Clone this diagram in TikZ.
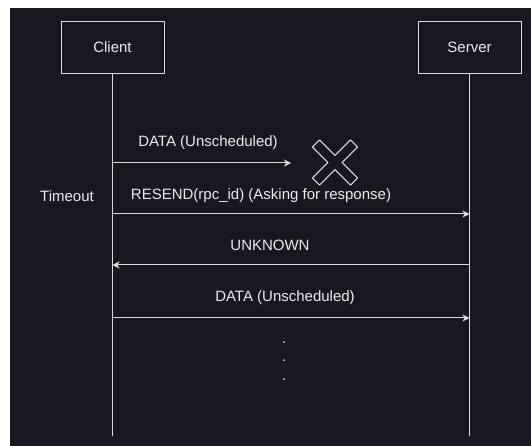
\documentclass[tikz,border=0pt]{standalone}
\usepackage{fontspec}
\setmainfont{Liberation Sans}
\usetikzlibrary{arrows.meta}
\definecolor{bgdark}{RGB}{25,23,32}
\definecolor{fgline}{RGB}{220,220,220}
\definecolor{fgtext}{RGB}{235,235,235}
\tikzset{
  actor/.style={draw=fgline, line width=0.8pt, minimum width=103pt, minimum height=52pt, text=fgtext, font=\fontsize{15}{18}\selectfont},
  lifeline/.style={draw=fgline, line width=0.8pt},
  msg/.style={draw=fgline, line width=1pt, -{Stealth[length=7pt,width=7pt,inset=2pt]}},
  lbl/.style={text=fgtext, font=\fontsize{15}{18}\selectfont}
}
\begin{document}
\begin{tikzpicture}[x=1pt,y=-1pt]
   \useasboundingbox (0,0) rectangle (531,446);
   \fill[bgdark] (10,8) rectangle (531,446);

   \node [actor] (client) at (112.5,47) {Client};
   \node [actor] (server) at (469.5,47) {Server};
   \coordinate (cend) at (112.5,436);
   \coordinate (send) at (469.5,436);
   \path (client) edge[lifeline] (cend)
         (server) edge[lifeline] (send);

   \coordinate (c1) at (112.5,163);
   \coordinate (lost) at (291,163);
   \coordinate (c2) at (112.5,214);
   \coordinate (s2) at (469.5,214);
   \coordinate (c3) at (112.5,265);
   \coordinate (s3) at (469.5,265);
   \coordinate (c4) at (112.5,318);
   \coordinate (s4) at (469.5,318);

   \path (c1) edge[msg] (lost)
         (c2) edge[msg] (s2)
         (s3) edge[msg] (c3)
         (c4) edge[msg] (s4);

   \node [lbl] (data1) at (208,143) {DATA (Unscheduled)};
   \node [lbl] (timeout) at (67,196) {Timeout};
   \node [lbl] (resend) at (261,196) {RESEND(rpc\_id) (Asking for response)};
   \node [lbl] (unknown) at (270,245) {UNKNOWN};
   \node [lbl] (data2) at (285,298) {DATA (Unscheduled)};
   \foreach \y/\n in {343/1,361/2,380/3}
      \node [lbl, inner sep=0pt] (dot\n) at (284,\y) {.};

   \begin{scope}[shift={(335,162.5)}, rotate=45]
      \draw[fgline, line width=1pt, line join=round]
         (5,5) -- (27,5) -- (27,-5) -- (5,-5) -- (5,-27) -- (-5,-27)
         -- (-5,-5) -- (-27,-5) -- (-27,5) -- (-5,5) -- (-5,27) -- (5,27) -- cycle;
   \end{scope}
\end{tikzpicture}
\end{document}
